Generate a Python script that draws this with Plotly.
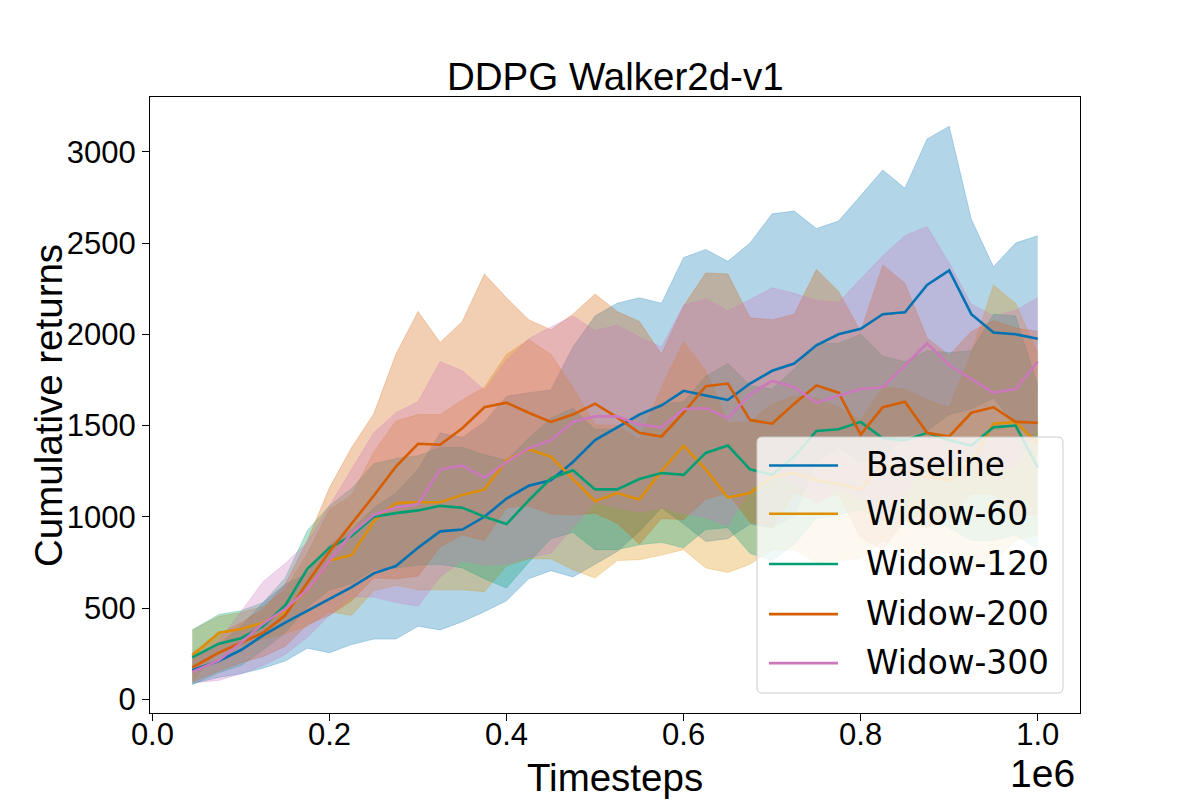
import plotly.graph_objects as go

# timesteps of the sampled points
timesteps = [45000, 75000, 100000, 125000, 150000, 175000, 200000, 225000, 250000, 275000,
             300000, 325000, 350000, 375000, 400000, 425000, 450000, 475000, 500000, 525000,
             550000, 575000, 600000, 625000, 650000, 675000, 700000, 725000, 750000, 775000,
             800000, 825000, 850000, 875000, 900000, 925000, 950000, 975000, 1000000]

names = ['Baseline', 'Widow-60', 'Widow-120', 'Widow-200', 'Widow-300']
colors = ['#0173b2', '#de8f05', '#029e73', '#d55e00', '#cc78bc']

baseline_mean = [160, 210, 270, 350, 420, 485, 550, 615, 690, 730,
                 830, 920, 930, 1000, 1100, 1170, 1200, 1300, 1420, 1490,
                 1560, 1610, 1690, 1665, 1640, 1730, 1800, 1840, 1940, 2000,
                 2030, 2110, 2120, 2270, 2350, 2110, 2010, 2000, 1975]
baseline_std = [75, 90, 130, 180, 210, 205, 295, 315, 360, 400,
                430, 540, 505, 520, 560, 510, 495, 630, 680, 680,
                640, 560, 730, 800, 760, 770, 860, 835, 640, 620,
                730, 790, 680, 800, 790, 520, 360, 500, 565]

w60_mean = [240, 365, 385, 420, 480, 600, 760, 790, 975, 1075,
            1080, 1080, 1120, 1150, 1310, 1370, 1330, 1210, 1085, 1130,
            1095, 1250, 1390, 1260, 1105, 1130, 1220, 1240, 1200, 1180,
            1150, 1290, 1250, 1220, 1200, 1300, 1510, 1520, 1400]
w60_std = [140, 90, 90, 90, 120, 200, 280, 330, 380, 450,
           480, 480, 520, 560, 580, 600, 560, 500, 420, 370,
           330, 460, 570, 540, 410, 390, 400, 420, 450, 420,
           380, 420, 450, 420, 400, 600, 760, 650, 500]

w120_mean = [230, 305, 335, 400, 515, 715, 830, 895, 1000, 1020,
             1035, 1060, 1050, 1000, 960, 1090, 1210, 1255, 1150, 1150,
             1207, 1240, 1230, 1350, 1390, 1260, 1230, 1330, 1470, 1480,
             1520, 1430, 1420, 1460, 1420, 1390, 1490, 1500, 1270]
w120_std = [150, 160, 150, 130, 150, 210, 230, 260, 290, 300,
            300, 320, 330, 340, 350, 340, 330, 340, 330, 330,
            360, 380, 400, 420, 450, 460, 470, 480, 480, 470,
            480, 450, 430, 450, 480, 520, 620, 600, 450]

w200_mean = [175, 255, 310, 365, 460, 640, 810, 960, 1115, 1275,
             1400, 1395, 1485, 1600, 1625, 1570, 1520, 1560, 1620, 1545,
             1460, 1440, 1570, 1716, 1730, 1530, 1510, 1620, 1720, 1680,
             1450, 1600, 1630, 1460, 1440, 1570, 1600, 1520, 1515]
w200_std = [80, 100, 110, 130, 170, 230, 350, 420, 450, 615,
            725, 560, 585, 730, 575, 510, 505, 550, 600, 580,
            610, 450, 585, 620, 600, 560, 570, 490, 635, 555,
            565, 780, 650, 520, 445, 445, 475, 515, 500]

w300_mean = [150, 213, 310, 415, 495, 600, 760, 910, 1010, 1050,
             1070, 1260, 1280, 1215, 1300, 1375, 1420, 1520, 1550, 1550,
             1505, 1490, 1590, 1595, 1540, 1670, 1745, 1710, 1625, 1665,
             1700, 1710, 1830, 1950, 1830, 1755, 1680, 1700, 1850]
w300_std = [60, 110, 170, 230, 250, 260, 300, 350, 450, 520,
            560, 590, 520, 480, 560, 600, 620, 580, 470, 500,
            480, 440, 570, 600, 590, 520, 510, 515, 560, 510,
            600, 720, 710, 640, 560, 410, 420, 430, 350]

means = [baseline_mean, w60_mean, w120_mean, w200_mean, w300_mean]
stds = [baseline_std, w60_std, w120_std, w200_std, w300_std]

x_ticks = [0, 200000, 400000, 600000, 800000, 1000000]
x_ticktext = ['0.0', '0.2', '0.4', '0.6', '0.8', '1.0']
y_ticks = [0, 500, 1000, 1500, 2000, 2500, 3000]


def rgba(hex_color, alpha):
    h = hex_color.lstrip('#')
    return 'rgba(%d,%d,%d,%s)' % (int(h[0:2], 16), int(h[2:4], 16), int(h[4:6], 16), alpha)


fig = go.Figure()

# shaded bands first (mean +/- std)
for color, m, s in zip(colors, means, stds):
    upper = [a + b for a, b in zip(m, s)]
    lower = [a - b for a, b in zip(m, s)]
    fig.add_trace(go.Scatter(x=timesteps, y=upper, mode='lines',
                             line=dict(color=rgba(color, 0.3), width=0.8),
                             showlegend=False, hoverinfo='skip'))
    fig.add_trace(go.Scatter(x=timesteps, y=lower, mode='lines', fill='tonexty',
                             fillcolor=rgba(color, 0.3),
                             line=dict(color=rgba(color, 0.3), width=0.8),
                             showlegend=False, hoverinfo='skip'))

# mean lines on top
for name, color, m in zip(names, colors, means):
    fig.add_trace(go.Scatter(x=timesteps, y=m, mode='lines', name=name,
                             line=dict(color=color, width=2.6), showlegend=False))

axis_font = 'Liberation Sans, Arial, sans-serif'

fig.update_layout(
    width=1200, height=800,
    margin=dict(l=142, r=128, t=89, b=95),
    paper_bgcolor='white', plot_bgcolor='white',
    font=dict(family=axis_font, color='black'),
    showlegend=False,
    xaxis=dict(range=[-2750, 1047750], tickvals=x_ticks, ticktext=x_ticktext,
               ticks='outside', ticklen=7, tickwidth=1.3, tickcolor='black',
               ticklabelstandoff=-13,
               showline=True, mirror=True, linecolor='black', linewidth=1.3,
               showgrid=False, zeroline=False, tickfont=dict(size=31)),
    yaxis=dict(range=[-75, 3300], tickvals=y_ticks,
               ticks='outside', ticklen=7, tickwidth=1.3, tickcolor='black',
               showline=True, mirror=True, linecolor='black', linewidth=1.3,
               showgrid=False, zeroline=False, tickfont=dict(size=31)),
)

# titles and offset text
fig.add_annotation(text='DDPG Walker2d-v1', x=0.5, y=1.0325, xref='paper', yref='paper',
                   xanchor='center', yanchor='middle', showarrow=False,
                   font=dict(size=38.5, family=axis_font))
fig.add_annotation(text='Timesteps', x=0.5, y=-0.104, xref='paper', yref='paper',
                   xanchor='center', yanchor='middle', showarrow=False,
                   font=dict(size=38.5, family=axis_font))
fig.add_annotation(text='1e6', x=0.9968, y=-0.0982, xref='paper', yref='paper',
                   xanchor='right', yanchor='middle', showarrow=False,
                   font=dict(size=39, family=axis_font))
fig.add_annotation(text='Cumulative returns', x=-0.1097, y=0.5, xref='paper', yref='paper',
                   xanchor='center', yanchor='middle', textangle=-90, showarrow=False,
                   font=dict(size=38.5, family=axis_font))

# legend box drawn by hand (rounded, semi-transparent like matplotlib)
x0, x1, y0, y1 = 0.6527, 0.9817, 0.0325, 0.448
rx, ry = 0.0054, 0.0081
path = ('M %f,%f L %f,%f Q %f,%f %f,%f L %f,%f Q %f,%f %f,%f L %f,%f Q %f,%f %f,%f L %f,%f Q %f,%f %f,%f Z'
        % (x0 + rx, y0, x1 - rx, y0, x1, y0, x1, y0 + ry, x1, y1 - ry, x1, y1, x1 - rx, y1,
           x0 + rx, y1, x0, y1, x0, y1 - ry, x0, y0 + ry, x0, y0, x0 + rx, y0))
fig.add_shape(type='path', path=path, xref='paper', yref='paper', layer='above',
              fillcolor='rgba(255,255,255,0.8)', line=dict(color='#cccccc', width=1))

row_y = [0.4018, 0.3235, 0.2420, 0.1605, 0.0810]
for name, color, yy in zip(names, colors, row_y):
    fig.add_shape(type='line', x0=0.6656, x1=0.7398, y0=yy, y1=yy, xref='paper', yref='paper',
                  layer='above', line=dict(color=color, width=2.6))
    fig.add_annotation(text=name, x=0.7677, y=yy, xref='paper', yref='paper',
                       xanchor='left', yanchor='middle', showarrow=False,
                       font=dict(size=32.8, family='DejaVu Sans'))

fig.write_html('out.html')
